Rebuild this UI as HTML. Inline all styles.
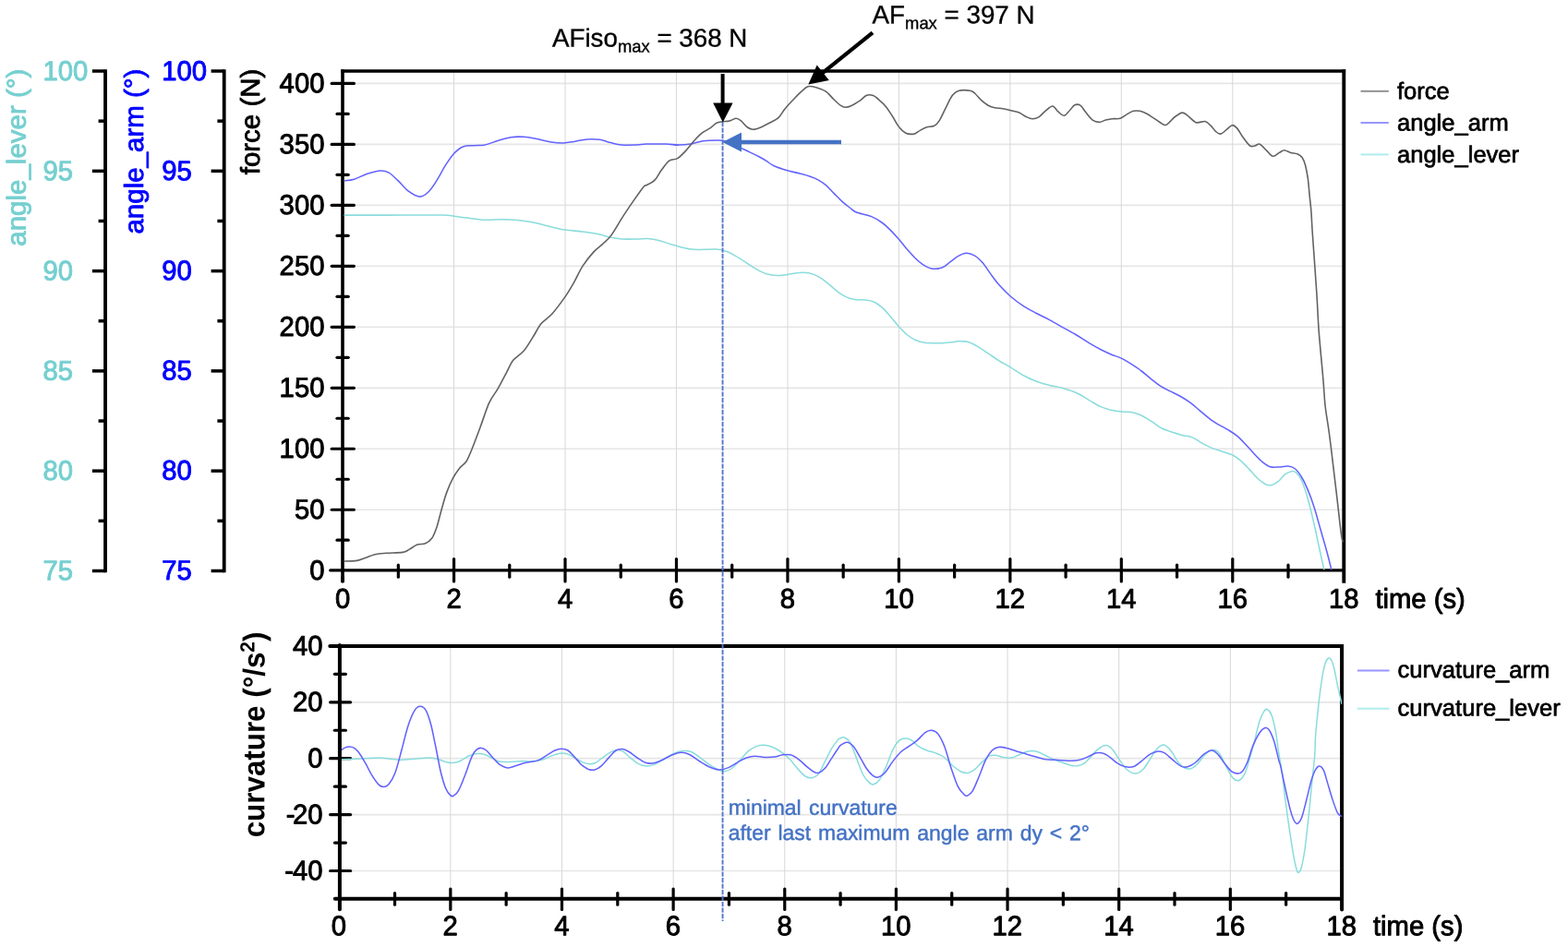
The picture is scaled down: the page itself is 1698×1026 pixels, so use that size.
<!DOCTYPE html><html><head><meta charset="utf-8"><title>Force and angle curves</title>
<style>html,body{margin:0;padding:0;background:#fff;overflow:hidden;}svg{display:block;font-family:"Liberation Sans", sans-serif;}</style></head><body>
<svg width="1698" height="1026" viewBox="0 0 1698 1026">
<rect width="1698" height="1026" fill="#fff"/>
<line x1="371.00" y1="552.23" x2="1455.30" y2="552.23" stroke="#e6e6e6" stroke-width="1.70" stroke-linecap="butt" />
<line x1="371.00" y1="486.25" x2="1455.30" y2="486.25" stroke="#e6e6e6" stroke-width="1.70" stroke-linecap="butt" />
<line x1="371.00" y1="420.28" x2="1455.30" y2="420.28" stroke="#e6e6e6" stroke-width="1.70" stroke-linecap="butt" />
<line x1="371.00" y1="354.30" x2="1455.30" y2="354.30" stroke="#e6e6e6" stroke-width="1.70" stroke-linecap="butt" />
<line x1="371.00" y1="288.33" x2="1455.30" y2="288.33" stroke="#e6e6e6" stroke-width="1.70" stroke-linecap="butt" />
<line x1="371.00" y1="222.35" x2="1455.30" y2="222.35" stroke="#e6e6e6" stroke-width="1.70" stroke-linecap="butt" />
<line x1="371.00" y1="156.38" x2="1455.30" y2="156.38" stroke="#e6e6e6" stroke-width="1.70" stroke-linecap="butt" />
<line x1="371.00" y1="90.40" x2="1455.30" y2="90.40" stroke="#e6e6e6" stroke-width="1.70" stroke-linecap="butt" />
<line x1="491.56" y1="77.00" x2="491.56" y2="618.00" stroke="#d9d9d9" stroke-width="1.05" stroke-linecap="butt" />
<line x1="612.02" y1="77.00" x2="612.02" y2="618.00" stroke="#d9d9d9" stroke-width="1.05" stroke-linecap="butt" />
<line x1="732.48" y1="77.00" x2="732.48" y2="618.00" stroke="#d9d9d9" stroke-width="1.05" stroke-linecap="butt" />
<line x1="852.94" y1="77.00" x2="852.94" y2="618.00" stroke="#d9d9d9" stroke-width="1.05" stroke-linecap="butt" />
<line x1="973.40" y1="77.00" x2="973.40" y2="618.00" stroke="#d9d9d9" stroke-width="1.05" stroke-linecap="butt" />
<line x1="1093.86" y1="77.00" x2="1093.86" y2="618.00" stroke="#d9d9d9" stroke-width="1.05" stroke-linecap="butt" />
<line x1="1214.32" y1="77.00" x2="1214.32" y2="618.00" stroke="#d9d9d9" stroke-width="1.05" stroke-linecap="butt" />
<line x1="1334.78" y1="77.00" x2="1334.78" y2="618.00" stroke="#d9d9d9" stroke-width="1.05" stroke-linecap="butt" />
<line x1="367.90" y1="760.80" x2="1453.10" y2="760.80" stroke="#e6e6e6" stroke-width="1.70" stroke-linecap="butt" />
<line x1="367.90" y1="821.70" x2="1453.10" y2="821.70" stroke="#e6e6e6" stroke-width="1.70" stroke-linecap="butt" />
<line x1="367.90" y1="882.60" x2="1453.10" y2="882.60" stroke="#e6e6e6" stroke-width="1.70" stroke-linecap="butt" />
<line x1="367.90" y1="943.50" x2="1453.10" y2="943.50" stroke="#e6e6e6" stroke-width="1.70" stroke-linecap="butt" />
<line x1="487.84" y1="699.90" x2="487.84" y2="973.70" stroke="#d9d9d9" stroke-width="1.05" stroke-linecap="butt" />
<line x1="608.48" y1="699.90" x2="608.48" y2="973.70" stroke="#d9d9d9" stroke-width="1.05" stroke-linecap="butt" />
<line x1="729.12" y1="699.90" x2="729.12" y2="973.70" stroke="#d9d9d9" stroke-width="1.05" stroke-linecap="butt" />
<line x1="849.76" y1="699.90" x2="849.76" y2="973.70" stroke="#d9d9d9" stroke-width="1.05" stroke-linecap="butt" />
<line x1="970.40" y1="699.90" x2="970.40" y2="973.70" stroke="#d9d9d9" stroke-width="1.05" stroke-linecap="butt" />
<line x1="1091.04" y1="699.90" x2="1091.04" y2="973.70" stroke="#d9d9d9" stroke-width="1.05" stroke-linecap="butt" />
<line x1="1211.68" y1="699.90" x2="1211.68" y2="973.70" stroke="#d9d9d9" stroke-width="1.05" stroke-linecap="butt" />
<line x1="1332.32" y1="699.90" x2="1332.32" y2="973.70" stroke="#d9d9d9" stroke-width="1.05" stroke-linecap="butt" />
<line x1="371.00" y1="75.20" x2="371.00" y2="631.00" stroke="#000" stroke-width="3.60" stroke-linecap="butt" />
<line x1="369.20" y1="77.00" x2="1457.10" y2="77.00" stroke="#000" stroke-width="3.30" stroke-linecap="butt" />
<line x1="1455.30" y1="75.35" x2="1455.30" y2="631.70" stroke="#000" stroke-width="3.90" stroke-linecap="butt" />
<line x1="357.80" y1="617.90" x2="1455.30" y2="617.90" stroke="#000" stroke-width="3.40" stroke-linecap="round" />
<line x1="365.00" y1="585.21" x2="377.20" y2="585.21" stroke="#000" stroke-width="3.20" stroke-linecap="round" />
<line x1="359.20" y1="552.23" x2="383.40" y2="552.23" stroke="#000" stroke-width="3.20" stroke-linecap="round" />
<line x1="365.00" y1="519.24" x2="377.20" y2="519.24" stroke="#000" stroke-width="3.20" stroke-linecap="round" />
<line x1="359.20" y1="486.25" x2="383.40" y2="486.25" stroke="#000" stroke-width="3.20" stroke-linecap="round" />
<line x1="365.00" y1="453.26" x2="377.20" y2="453.26" stroke="#000" stroke-width="3.20" stroke-linecap="round" />
<line x1="359.20" y1="420.28" x2="383.40" y2="420.28" stroke="#000" stroke-width="3.20" stroke-linecap="round" />
<line x1="365.00" y1="387.29" x2="377.20" y2="387.29" stroke="#000" stroke-width="3.20" stroke-linecap="round" />
<line x1="359.20" y1="354.30" x2="383.40" y2="354.30" stroke="#000" stroke-width="3.20" stroke-linecap="round" />
<line x1="365.00" y1="321.31" x2="377.20" y2="321.31" stroke="#000" stroke-width="3.20" stroke-linecap="round" />
<line x1="359.20" y1="288.33" x2="383.40" y2="288.33" stroke="#000" stroke-width="3.20" stroke-linecap="round" />
<line x1="365.00" y1="255.34" x2="377.20" y2="255.34" stroke="#000" stroke-width="3.20" stroke-linecap="round" />
<line x1="359.20" y1="222.35" x2="383.40" y2="222.35" stroke="#000" stroke-width="3.20" stroke-linecap="round" />
<line x1="365.00" y1="189.36" x2="377.20" y2="189.36" stroke="#000" stroke-width="3.20" stroke-linecap="round" />
<line x1="359.20" y1="156.38" x2="383.40" y2="156.38" stroke="#000" stroke-width="3.20" stroke-linecap="round" />
<line x1="365.00" y1="123.39" x2="377.20" y2="123.39" stroke="#000" stroke-width="3.20" stroke-linecap="round" />
<line x1="359.20" y1="90.40" x2="383.40" y2="90.40" stroke="#000" stroke-width="3.20" stroke-linecap="round" />
<line x1="431.33" y1="612.20" x2="431.33" y2="625.20" stroke="#000" stroke-width="3.20" stroke-linecap="round" />
<line x1="491.56" y1="605.60" x2="491.56" y2="630.00" stroke="#000" stroke-width="3.20" stroke-linecap="round" />
<line x1="551.79" y1="612.20" x2="551.79" y2="625.20" stroke="#000" stroke-width="3.20" stroke-linecap="round" />
<line x1="612.02" y1="605.60" x2="612.02" y2="630.00" stroke="#000" stroke-width="3.20" stroke-linecap="round" />
<line x1="672.25" y1="612.20" x2="672.25" y2="625.20" stroke="#000" stroke-width="3.20" stroke-linecap="round" />
<line x1="732.48" y1="605.60" x2="732.48" y2="630.00" stroke="#000" stroke-width="3.20" stroke-linecap="round" />
<line x1="792.71" y1="612.20" x2="792.71" y2="625.20" stroke="#000" stroke-width="3.20" stroke-linecap="round" />
<line x1="852.94" y1="605.60" x2="852.94" y2="630.00" stroke="#000" stroke-width="3.20" stroke-linecap="round" />
<line x1="913.17" y1="612.20" x2="913.17" y2="625.20" stroke="#000" stroke-width="3.20" stroke-linecap="round" />
<line x1="973.40" y1="605.60" x2="973.40" y2="630.00" stroke="#000" stroke-width="3.20" stroke-linecap="round" />
<line x1="1033.63" y1="612.20" x2="1033.63" y2="625.20" stroke="#000" stroke-width="3.20" stroke-linecap="round" />
<line x1="1093.86" y1="605.60" x2="1093.86" y2="630.00" stroke="#000" stroke-width="3.20" stroke-linecap="round" />
<line x1="1154.09" y1="612.20" x2="1154.09" y2="625.20" stroke="#000" stroke-width="3.20" stroke-linecap="round" />
<line x1="1214.32" y1="605.60" x2="1214.32" y2="630.00" stroke="#000" stroke-width="3.20" stroke-linecap="round" />
<line x1="1274.55" y1="612.20" x2="1274.55" y2="625.20" stroke="#000" stroke-width="3.20" stroke-linecap="round" />
<line x1="1334.78" y1="605.60" x2="1334.78" y2="630.00" stroke="#000" stroke-width="3.20" stroke-linecap="round" />
<line x1="1395.01" y1="612.20" x2="1395.01" y2="625.20" stroke="#000" stroke-width="3.20" stroke-linecap="round" />
<line x1="371.00" y1="625.00" x2="371.00" y2="630.00" stroke="#000" stroke-width="3.60" stroke-linecap="round" />
<line x1="114.05" y1="75.25" x2="114.05" y2="620.25" stroke="#000" stroke-width="3.80" stroke-linecap="butt" />
<line x1="99.90" y1="77.00" x2="114.05" y2="77.00" stroke="#000" stroke-width="3.50" stroke-linecap="butt" />
<line x1="106.60" y1="131.15" x2="114.05" y2="131.15" stroke="#000" stroke-width="3.50" stroke-linecap="butt" />
<line x1="99.90" y1="185.30" x2="114.05" y2="185.30" stroke="#000" stroke-width="3.50" stroke-linecap="butt" />
<line x1="106.60" y1="239.45" x2="114.05" y2="239.45" stroke="#000" stroke-width="3.50" stroke-linecap="butt" />
<line x1="99.90" y1="293.60" x2="114.05" y2="293.60" stroke="#000" stroke-width="3.50" stroke-linecap="butt" />
<line x1="106.60" y1="347.75" x2="114.05" y2="347.75" stroke="#000" stroke-width="3.50" stroke-linecap="butt" />
<line x1="99.90" y1="401.90" x2="114.05" y2="401.90" stroke="#000" stroke-width="3.50" stroke-linecap="butt" />
<line x1="106.60" y1="456.05" x2="114.05" y2="456.05" stroke="#000" stroke-width="3.50" stroke-linecap="butt" />
<line x1="99.90" y1="510.20" x2="114.05" y2="510.20" stroke="#000" stroke-width="3.50" stroke-linecap="butt" />
<line x1="106.60" y1="564.35" x2="114.05" y2="564.35" stroke="#000" stroke-width="3.50" stroke-linecap="butt" />
<line x1="99.90" y1="618.50" x2="114.05" y2="618.50" stroke="#000" stroke-width="3.50" stroke-linecap="butt" />
<line x1="242.70" y1="75.25" x2="242.70" y2="620.25" stroke="#000" stroke-width="3.80" stroke-linecap="butt" />
<line x1="228.60" y1="77.00" x2="242.70" y2="77.00" stroke="#000" stroke-width="3.50" stroke-linecap="butt" />
<line x1="235.40" y1="131.15" x2="242.70" y2="131.15" stroke="#000" stroke-width="3.50" stroke-linecap="butt" />
<line x1="228.60" y1="185.30" x2="242.70" y2="185.30" stroke="#000" stroke-width="3.50" stroke-linecap="butt" />
<line x1="235.40" y1="239.45" x2="242.70" y2="239.45" stroke="#000" stroke-width="3.50" stroke-linecap="butt" />
<line x1="228.60" y1="293.60" x2="242.70" y2="293.60" stroke="#000" stroke-width="3.50" stroke-linecap="butt" />
<line x1="235.40" y1="347.75" x2="242.70" y2="347.75" stroke="#000" stroke-width="3.50" stroke-linecap="butt" />
<line x1="228.60" y1="401.90" x2="242.70" y2="401.90" stroke="#000" stroke-width="3.50" stroke-linecap="butt" />
<line x1="235.40" y1="456.05" x2="242.70" y2="456.05" stroke="#000" stroke-width="3.50" stroke-linecap="butt" />
<line x1="228.60" y1="510.20" x2="242.70" y2="510.20" stroke="#000" stroke-width="3.50" stroke-linecap="butt" />
<line x1="235.40" y1="564.35" x2="242.70" y2="564.35" stroke="#000" stroke-width="3.50" stroke-linecap="butt" />
<line x1="228.60" y1="618.50" x2="242.70" y2="618.50" stroke="#000" stroke-width="3.50" stroke-linecap="butt" />
<line x1="367.90" y1="698.90" x2="367.90" y2="985.30" stroke="#000" stroke-width="4.00" stroke-linecap="round" />
<path d="M357.3 699.90 L1453.10 699.90 L1453.10 985.6" fill="none" stroke="#000" stroke-width="4.0" stroke-linecap="round" stroke-linejoin="miter"/>
<line x1="362.80" y1="973.70" x2="1453.10" y2="973.70" stroke="#000" stroke-width="3.90" stroke-linecap="round" />
<line x1="357.60" y1="943.50" x2="379.60" y2="943.50" stroke="#000" stroke-width="3.20" stroke-linecap="round" />
<line x1="362.40" y1="913.05" x2="374.40" y2="913.05" stroke="#000" stroke-width="3.20" stroke-linecap="round" />
<line x1="357.60" y1="882.60" x2="379.60" y2="882.60" stroke="#000" stroke-width="3.20" stroke-linecap="round" />
<line x1="362.40" y1="852.15" x2="374.40" y2="852.15" stroke="#000" stroke-width="3.20" stroke-linecap="round" />
<line x1="357.60" y1="821.70" x2="379.60" y2="821.70" stroke="#000" stroke-width="3.20" stroke-linecap="round" />
<line x1="362.40" y1="791.25" x2="374.40" y2="791.25" stroke="#000" stroke-width="3.20" stroke-linecap="round" />
<line x1="357.60" y1="760.80" x2="379.60" y2="760.80" stroke="#000" stroke-width="3.20" stroke-linecap="round" />
<line x1="362.40" y1="730.35" x2="374.40" y2="730.35" stroke="#000" stroke-width="3.20" stroke-linecap="round" />
<line x1="427.52" y1="967.60" x2="427.52" y2="980.20" stroke="#000" stroke-width="3.20" stroke-linecap="round" />
<line x1="487.84" y1="963.00" x2="487.84" y2="985.40" stroke="#000" stroke-width="3.20" stroke-linecap="round" />
<line x1="548.16" y1="967.60" x2="548.16" y2="980.20" stroke="#000" stroke-width="3.20" stroke-linecap="round" />
<line x1="608.48" y1="963.00" x2="608.48" y2="985.40" stroke="#000" stroke-width="3.20" stroke-linecap="round" />
<line x1="668.80" y1="967.60" x2="668.80" y2="980.20" stroke="#000" stroke-width="3.20" stroke-linecap="round" />
<line x1="729.12" y1="963.00" x2="729.12" y2="985.40" stroke="#000" stroke-width="3.20" stroke-linecap="round" />
<line x1="789.44" y1="967.60" x2="789.44" y2="980.20" stroke="#000" stroke-width="3.20" stroke-linecap="round" />
<line x1="849.76" y1="963.00" x2="849.76" y2="985.40" stroke="#000" stroke-width="3.20" stroke-linecap="round" />
<line x1="910.08" y1="967.60" x2="910.08" y2="980.20" stroke="#000" stroke-width="3.20" stroke-linecap="round" />
<line x1="970.40" y1="963.00" x2="970.40" y2="985.40" stroke="#000" stroke-width="3.20" stroke-linecap="round" />
<line x1="1030.72" y1="967.60" x2="1030.72" y2="980.20" stroke="#000" stroke-width="3.20" stroke-linecap="round" />
<line x1="1091.04" y1="963.00" x2="1091.04" y2="985.40" stroke="#000" stroke-width="3.20" stroke-linecap="round" />
<line x1="1151.36" y1="967.60" x2="1151.36" y2="980.20" stroke="#000" stroke-width="3.20" stroke-linecap="round" />
<line x1="1211.68" y1="963.00" x2="1211.68" y2="985.40" stroke="#000" stroke-width="3.20" stroke-linecap="round" />
<line x1="1272.00" y1="967.60" x2="1272.00" y2="980.20" stroke="#000" stroke-width="3.20" stroke-linecap="round" />
<line x1="1332.32" y1="963.00" x2="1332.32" y2="985.40" stroke="#000" stroke-width="3.20" stroke-linecap="round" />
<line x1="1392.64" y1="967.60" x2="1392.64" y2="980.20" stroke="#000" stroke-width="3.20" stroke-linecap="round" />
<defs><clipPath id="ct"><rect x="372.6" y="77" width="1082.7" height="542.3"/></clipPath><clipPath id="cb"><rect x="370.0" y="700" width="1083.2" height="275.2"/></clipPath></defs>
<g fill="none" stroke-linejoin="round" stroke-linecap="round" clip-path="url(#ct)">
<path d="M372.2 233.1C380.0 233.1 401.3 233.1 418.9 233.1C436.5 233.1 465.6 232.9 477.8 233.1C490.0 233.3 487.2 233.7 491.9 234.2C496.6 234.8 500.6 235.5 506.1 236.1C511.5 236.8 518.6 238.0 524.9 238.3C531.2 238.5 537.9 237.8 543.8 237.8C549.6 237.8 554.7 238.0 560.2 238.5C565.7 239.0 570.8 239.7 576.7 240.8C582.6 242.0 589.7 244.2 595.6 245.6C601.5 246.9 606.2 248.2 612.1 249.1C617.9 250.0 625.0 250.2 630.9 251.0C636.8 251.7 642.3 252.5 647.4 253.6C652.5 254.6 657.2 256.4 661.5 257.3C665.8 258.2 668.6 258.7 673.3 259.0C678.0 259.3 685.1 259.1 689.8 259.0C694.5 258.9 697.7 258.3 701.6 258.5C705.5 258.8 709.0 259.3 713.4 260.4C717.7 261.5 721.6 263.3 727.5 264.9C733.4 266.5 740.9 269.2 748.8 270.1C756.8 271.0 769.2 269.8 775.3 270.1C781.5 270.4 782.4 270.8 785.9 272.1C789.5 273.3 793.0 275.4 796.5 277.4C800.1 279.3 803.6 281.6 807.1 283.9C810.7 286.2 813.9 288.8 817.7 290.9C821.6 293.1 826.0 295.5 830.1 296.8C834.2 298.0 838.3 298.5 842.5 298.6C846.6 298.6 851.0 297.7 854.8 297.1C858.7 296.6 861.9 295.6 865.4 295.4C869.0 295.1 872.5 295.0 876.0 295.7C879.6 296.5 883.1 297.8 886.6 299.8C890.2 301.8 893.7 304.9 897.2 307.7C900.8 310.5 904.6 314.2 907.8 316.6C911.1 318.9 913.7 320.5 916.7 321.9C919.6 323.2 922.0 324.0 925.5 324.5C929.0 325.0 934.3 324.4 937.9 324.9C941.4 325.3 943.8 325.8 946.7 327.2C949.7 328.6 952.6 330.7 955.5 333.4C958.5 336.0 961.4 339.7 964.4 343.1C967.3 346.5 970.3 350.4 973.2 353.7C976.2 356.9 979.1 360.1 982.0 362.5C985.0 364.9 987.6 366.7 990.9 368.2C994.1 369.6 997.4 370.8 1001.5 371.3C1005.6 371.9 1012.5 371.6 1015.6 371.7C1018.7 371.8 1017.5 371.8 1020.0 371.7C1022.5 371.6 1027.4 371.2 1030.6 370.8C1033.8 370.5 1036.2 369.5 1039.4 369.6C1042.7 369.6 1046.5 369.8 1050.0 371.0C1053.6 372.2 1057.1 374.5 1060.6 376.6C1064.2 378.8 1067.7 381.4 1071.2 383.7C1074.8 386.1 1078.0 388.4 1081.8 390.8C1085.7 393.2 1089.8 395.3 1094.2 397.9C1098.6 400.6 1103.6 404.2 1108.3 406.8C1113.1 409.3 1117.8 411.6 1122.5 413.3C1127.2 415.1 1131.9 416.2 1136.6 417.4C1141.3 418.6 1146.0 419.1 1150.7 420.4C1155.5 421.7 1160.2 423.2 1164.9 425.3C1169.6 427.5 1174.6 430.8 1179.0 433.3C1183.4 435.8 1187.6 438.6 1191.4 440.4C1195.2 442.1 1198.2 442.9 1202.0 443.9C1205.8 444.8 1210.5 445.6 1214.3 446.0C1218.2 446.5 1221.4 445.9 1225.0 446.5C1228.5 447.2 1231.7 448.0 1235.5 449.7C1239.4 451.5 1244.1 454.7 1247.9 457.1C1251.7 459.6 1253.2 461.8 1258.5 464.2C1263.9 466.6 1274.7 469.9 1280.0 471.4C1285.3 473.0 1287.1 472.2 1290.6 473.6C1294.1 475.0 1297.7 477.8 1301.2 479.8C1304.7 481.7 1308.0 483.4 1311.8 485.1C1315.6 486.7 1320.3 488.1 1324.2 489.5C1328.0 490.8 1331.5 491.4 1334.8 493.0C1338.0 494.6 1340.7 496.7 1343.6 499.2C1346.5 501.7 1349.5 504.9 1352.4 508.0C1355.4 511.1 1358.3 515.0 1361.3 517.7C1364.2 520.5 1367.6 523.1 1370.1 524.5C1372.6 525.8 1373.9 526.2 1376.3 525.7C1378.6 525.2 1381.7 523.5 1384.2 521.6C1386.7 519.7 1389.0 516.0 1391.3 514.2C1393.7 512.4 1396.3 511.0 1398.4 510.7C1400.4 510.3 1401.9 510.6 1403.7 512.1C1405.4 513.6 1407.2 515.9 1409.0 519.5C1410.7 523.1 1412.5 528.0 1414.3 533.6C1416.0 539.2 1417.8 546.0 1419.6 553.1C1421.3 560.1 1423.1 568.1 1424.9 576.0C1426.6 584.0 1428.7 594.0 1430.2 600.8C1431.7 607.6 1433.1 614.0 1433.7 616.7" stroke="#8adcdc" stroke-width="1.55"/>
<path d="M372.2 195.8C374.1 195.6 379.3 195.5 383.6 194.2C387.8 192.9 393.0 189.8 397.7 188.3C402.4 186.8 407.9 185.2 411.8 185.0C415.8 184.8 418.1 185.4 421.2 187.1C424.4 188.9 427.1 192.0 430.7 195.4C434.2 198.7 438.5 204.2 442.4 207.2C446.4 210.1 450.7 212.9 454.2 213.1C457.8 213.2 460.5 211.3 463.6 208.3C466.8 205.4 469.9 200.3 473.1 195.4C476.2 190.5 479.4 183.8 482.5 178.9C485.6 174.0 488.8 169.3 491.9 165.9C495.1 162.6 497.8 160.2 501.3 158.9C504.9 157.5 509.2 158.0 513.1 157.7C517.0 157.4 520.6 157.8 524.9 157.0C529.2 156.1 534.3 153.9 539.0 152.5C543.7 151.1 548.5 149.4 553.2 148.7C557.9 148.0 562.6 148.0 567.3 148.3C572.0 148.6 576.7 149.7 581.4 150.6C586.2 151.5 590.9 153.0 595.6 153.7C600.3 154.4 605.4 154.9 609.7 154.9C614.0 154.8 617.2 154.1 621.5 153.4C625.8 152.8 630.9 151.2 635.6 150.9C640.3 150.5 645.4 150.7 649.8 151.3C654.1 152.0 657.6 153.7 661.5 154.6C665.5 155.6 668.6 156.6 673.3 157.0C678.0 157.4 685.4 157.1 689.8 157.0C694.2 156.8 694.8 156.2 700.0 156.0C705.2 155.9 715.3 155.9 721.2 156.0C727.1 156.2 730.6 157.2 735.3 157.1C740.1 157.0 745.6 156.3 749.5 155.7C753.3 155.1 755.4 154.0 758.3 153.4C761.2 152.8 763.0 152.4 767.1 152.2C771.3 152.0 778.9 151.6 783.0 152.2C787.2 152.7 788.5 154.3 791.9 155.7C795.2 157.1 799.6 159.1 803.0 160.6C806.4 162.2 809.3 163.5 812.5 165.1C815.8 166.6 819.5 168.4 822.4 170.0C825.4 171.6 827.5 172.8 830.0 174.4C832.6 176.0 834.2 177.9 837.8 179.5C841.5 181.2 847.2 183.1 851.9 184.5C856.7 185.9 862.0 186.9 866.1 188.0C870.2 189.1 873.4 189.9 876.7 191.0C879.9 192.1 882.6 192.9 885.5 194.6C888.5 196.2 891.4 198.2 894.4 200.7C897.3 203.2 900.2 206.6 903.2 209.6C906.1 212.5 909.1 215.8 912.0 218.4C915.0 221.1 918.3 223.5 920.9 225.5C923.4 227.4 923.6 228.5 927.3 230.0C931.0 231.5 938.5 232.5 943.2 234.4C947.9 236.3 952.0 239.0 955.5 241.5C959.1 244.0 961.4 246.5 964.4 249.4C967.3 252.4 970.3 255.8 973.2 259.1C976.2 262.5 979.1 266.4 982.0 269.8C985.0 273.1 987.9 276.6 990.9 279.5C993.8 282.3 996.8 285.0 999.7 286.9C1002.7 288.8 1005.2 290.4 1008.5 290.9C1011.9 291.5 1016.6 291.2 1020.0 290.1C1023.4 288.9 1025.9 286.0 1028.8 283.9C1031.8 281.8 1034.7 279.0 1037.7 277.4C1040.6 275.7 1043.6 274.3 1046.5 274.2C1049.4 274.1 1052.4 275.1 1055.3 276.8C1058.3 278.6 1061.2 281.4 1064.2 284.8C1067.1 288.2 1070.1 293.2 1073.0 297.1C1075.9 301.1 1078.3 304.6 1081.8 308.6C1085.4 312.6 1089.8 317.2 1094.2 321.0C1098.6 324.8 1103.6 328.5 1108.3 331.6C1113.1 334.7 1117.8 337.0 1122.5 339.5C1127.2 342.0 1131.9 344.1 1136.6 346.6C1141.3 349.1 1146.0 351.9 1150.7 354.6C1155.5 357.2 1160.2 359.7 1164.9 362.5C1169.6 365.3 1174.3 368.5 1179.0 371.3C1183.7 374.1 1189.0 377.1 1193.1 379.3C1197.3 381.4 1200.2 382.8 1203.8 384.2C1207.3 385.7 1210.8 386.4 1214.3 388.1C1217.9 389.8 1221.4 392.2 1225.0 394.4C1228.5 396.6 1232.0 398.8 1235.5 401.5C1239.1 404.1 1242.6 407.5 1246.2 410.3C1249.7 413.1 1253.2 416.0 1256.8 418.3C1260.3 420.5 1263.8 422.1 1267.3 423.9C1270.9 425.7 1274.4 427.2 1278.0 429.2C1281.5 431.2 1285.0 433.3 1288.5 435.9C1292.1 438.5 1295.6 441.8 1299.2 444.8C1302.7 447.7 1306.8 451.3 1309.8 453.6C1312.7 455.9 1313.5 456.4 1317.1 458.6C1320.7 460.7 1327.4 464.1 1331.2 466.5C1335.1 468.9 1337.1 470.2 1340.1 472.7C1343.0 475.2 1346.0 478.4 1348.9 481.5C1351.8 484.6 1354.8 488.1 1357.7 491.2C1360.7 494.3 1363.6 497.7 1366.6 500.1C1369.5 502.5 1372.2 504.7 1375.4 505.7C1378.7 506.7 1382.8 506.0 1386.0 505.9C1389.2 505.8 1392.2 504.8 1394.8 505.0C1397.5 505.3 1399.6 505.7 1401.9 507.5C1404.3 509.3 1406.6 512.2 1409.0 516.0C1411.3 519.7 1413.7 524.5 1416.0 530.1C1418.4 535.7 1420.8 542.2 1423.1 549.5C1425.5 556.9 1427.8 566.0 1430.2 574.3C1432.5 582.5 1435.3 591.9 1437.2 599.0C1439.2 606.1 1440.9 613.7 1441.7 616.7" stroke="#6262ff" stroke-width="1.55"/>
<path d="M370.9 608.1C373.5 608.0 382.4 608.0 386.5 607.4C390.6 606.8 392.1 605.7 395.3 604.6C398.6 603.5 402.1 601.6 405.9 600.7C409.8 599.8 413.3 599.7 418.3 599.3C423.3 598.9 431.8 599.1 436.0 598.4C440.1 597.8 440.4 596.8 443.0 595.4C445.7 594.0 448.9 591.2 451.9 590.1C454.8 589.0 458.1 589.9 460.7 588.7C463.4 587.5 465.7 586.0 467.8 583.0C469.8 580.0 471.3 576.0 473.1 570.7C474.8 565.4 476.6 557.4 478.4 551.2C480.1 545.1 481.6 539.2 483.7 533.6C485.7 528.0 488.4 522.1 490.7 517.7C493.1 513.3 495.5 510.0 497.8 507.1C500.2 504.1 502.7 503.3 504.9 500.0C507.0 496.7 508.2 493.5 510.8 487.2C513.3 481.0 517.1 470.9 520.2 462.5C523.3 454.1 526.5 443.5 529.6 436.6C532.8 429.7 535.9 426.8 539.0 421.3C542.2 415.8 545.7 408.7 548.5 403.6C551.2 398.5 552.4 394.6 555.5 390.6C558.7 386.7 563.8 384.2 567.3 380.1C570.8 375.9 573.6 370.8 576.7 365.9C579.9 361.0 582.6 354.9 586.1 350.6C589.7 346.3 593.6 344.9 597.9 340.0C602.2 335.1 608.1 327.1 612.1 321.4C616.0 315.8 618.3 311.6 621.5 306.1C624.6 300.6 627.4 293.9 630.9 288.4C634.4 282.9 639.2 277.0 642.7 273.1C646.2 269.2 649.0 267.8 652.1 264.9C655.2 261.9 658.0 260.2 661.5 255.4C665.1 250.7 669.4 242.7 673.3 236.6C677.2 230.5 681.2 224.6 685.1 218.9C689.0 213.2 694.4 205.5 696.9 202.4C699.4 199.4 698.0 201.9 700.0 200.7C702.0 199.6 706.2 198.1 708.8 195.4C711.5 192.8 713.2 188.4 715.9 184.8C718.5 181.3 721.8 176.4 724.7 174.2C727.7 172.0 730.6 173.4 733.6 171.6C736.5 169.8 739.5 166.7 742.4 163.6C745.3 160.5 748.3 156.3 751.2 153.0C754.2 149.8 757.1 146.6 760.1 144.2C763.0 141.8 766.2 140.7 768.9 138.9C771.5 137.1 773.6 134.4 776.0 133.2C778.3 132.1 780.7 132.2 783.0 131.8C785.4 131.5 787.8 131.5 790.1 130.9C792.5 130.4 795.1 128.3 797.2 128.3C799.2 128.3 800.4 129.3 802.5 130.9C804.5 132.6 807.3 136.5 809.5 138.0C811.7 139.6 813.4 140.3 815.7 140.3C818.1 140.3 820.6 139.3 823.7 138.0C826.8 136.8 831.0 134.5 834.3 132.7C837.5 131.0 840.5 129.9 843.1 127.4C845.8 124.9 847.5 120.9 850.2 117.7C852.8 114.5 856.1 111.1 859.0 108.0C862.0 104.9 865.2 101.5 867.8 99.2C870.5 96.8 872.3 94.6 874.9 93.8C877.6 93.1 880.5 93.8 883.8 94.7C887.0 95.6 891.1 96.9 894.4 99.2C897.6 101.4 900.5 105.5 903.2 108.0C905.8 110.5 908.2 112.8 910.2 114.2C912.3 115.6 913.5 116.3 915.5 116.3C917.6 116.3 920.0 115.4 922.6 114.2C925.3 112.9 928.8 110.7 931.5 108.9C934.1 107.0 936.2 104.1 938.5 103.2C940.9 102.3 943.2 102.6 945.6 103.6C947.9 104.5 950.3 106.8 952.6 108.9C955.0 110.9 957.4 113.0 959.7 115.9C962.1 118.9 964.4 122.9 966.8 126.5C969.1 130.2 971.5 135.1 973.9 138.0C976.2 141.0 978.3 143.0 980.9 144.2C983.6 145.4 987.3 145.5 989.8 145.1C992.2 144.6 993.7 142.7 995.9 141.6C998.1 140.4 1000.3 138.9 1003.0 138.0C1005.6 137.1 1009.4 137.4 1011.8 136.2C1014.2 135.1 1015.0 134.2 1017.1 130.9C1019.2 127.7 1021.8 121.4 1024.2 116.8C1026.5 112.3 1028.9 106.7 1031.2 103.6C1033.6 100.5 1035.1 99.2 1038.3 98.3C1041.5 97.4 1047.7 97.7 1050.7 98.3C1053.6 98.8 1053.9 99.7 1056.0 101.5C1058.0 103.2 1060.7 106.8 1063.0 108.9C1065.4 111.0 1067.8 112.8 1070.1 114.2C1072.5 115.5 1074.5 116.2 1077.2 116.8C1079.8 117.4 1083.1 117.2 1086.0 117.7C1089.0 118.2 1091.9 119.1 1094.8 119.8C1097.8 120.6 1101.0 121.1 1103.7 122.1C1106.3 123.2 1108.4 125.1 1110.7 126.2C1113.1 127.3 1115.5 128.7 1117.8 128.8C1120.2 128.9 1122.5 128.3 1124.9 126.9C1127.2 125.5 1129.4 122.3 1131.9 120.3C1134.4 118.4 1137.5 114.9 1139.9 115.0C1142.2 115.2 1144.0 119.5 1146.1 121.2C1148.1 122.9 1150.2 125.6 1152.3 125.3C1154.3 125.0 1156.5 121.4 1158.5 119.5C1160.4 117.6 1161.8 114.7 1163.8 113.8C1165.7 112.9 1167.9 112.8 1169.9 114.2C1172.0 115.6 1173.9 119.5 1176.1 122.1C1178.3 124.8 1180.8 128.4 1183.2 130.1C1185.5 131.8 1187.9 132.4 1190.2 132.4C1192.6 132.4 1195.0 130.7 1197.3 130.1C1199.7 129.5 1201.7 129.0 1204.4 128.7C1207.0 128.4 1210.6 129.1 1213.2 128.3C1215.9 127.5 1217.9 125.2 1220.3 123.9C1222.6 122.6 1225.0 120.9 1227.3 120.3C1229.7 119.8 1232.1 119.9 1234.4 120.3C1236.8 120.8 1239.1 121.8 1241.5 123.0C1243.8 124.2 1246.2 125.9 1248.5 127.4C1250.9 129.0 1253.3 130.9 1255.6 132.2C1258.0 133.5 1259.9 136.3 1262.7 135.4C1265.5 134.4 1269.4 128.7 1272.4 126.5C1275.3 124.3 1278.0 122.3 1280.3 122.1C1282.7 122.0 1284.0 123.9 1286.5 125.7C1289.0 127.4 1292.2 131.7 1295.3 132.7C1298.4 133.7 1302.4 130.9 1305.0 131.5C1307.7 132.1 1309.3 134.4 1311.2 136.2C1313.2 138.1 1314.8 141.0 1316.5 142.4C1318.3 143.9 1319.9 145.4 1321.8 145.1C1323.8 144.8 1326.0 142.2 1328.0 140.7C1330.1 139.1 1332.3 136.0 1334.2 135.7C1336.1 135.4 1337.4 136.6 1339.5 138.9C1341.6 141.2 1344.2 146.3 1346.6 149.5C1348.9 152.7 1351.6 156.6 1353.6 158.0C1355.7 159.4 1357.2 158.3 1358.9 158.0C1360.7 157.7 1362.2 155.4 1364.2 156.2C1366.3 157.0 1369.0 160.6 1371.3 162.8C1373.7 164.9 1376.0 168.8 1378.4 169.3C1380.7 169.7 1383.4 166.5 1385.4 165.4C1387.5 164.3 1388.7 162.8 1390.7 162.8C1392.8 162.8 1395.5 164.7 1397.8 165.4C1400.2 166.1 1402.8 165.9 1404.9 166.8C1406.9 167.7 1408.7 168.6 1410.2 170.7C1411.7 172.8 1412.7 175.7 1413.7 179.5C1414.7 183.4 1415.6 188.4 1416.4 193.7C1417.1 199.0 1417.5 205.4 1418.1 211.3C1418.7 217.2 1419.4 222.6 1419.9 229.0C1420.4 235.5 1420.2 235.4 1421.1 250.0C1422.1 264.7 1424.6 298.8 1425.8 317.0C1427.0 335.1 1427.1 343.3 1428.2 358.9C1429.4 374.4 1431.7 396.9 1432.8 410.4C1434.0 424.0 1434.1 430.7 1435.1 440.0C1436.2 449.3 1437.6 456.2 1439.0 466.5C1440.4 476.8 1442.0 489.8 1443.4 501.8C1444.9 513.9 1446.4 526.3 1447.8 538.9C1449.3 551.6 1451.2 569.9 1452.3 577.8C1453.3 585.8 1453.7 585.2 1454.0 586.6" stroke="#626262" stroke-width="1.6"/>
</g>
<g fill="none" stroke-linejoin="round" stroke-linecap="round" clip-path="url(#cb)">
<path d="M368.2 822.8C371.1 822.7 378.4 822.5 385.3 822.2C392.3 821.9 404.2 821.0 410.1 821.0C416.0 820.9 416.5 821.5 420.7 821.9C424.8 822.3 430.1 823.2 434.8 823.3C439.5 823.3 444.2 822.6 448.9 822.2C453.6 821.8 458.9 821.0 463.1 821.0C467.2 821.0 470.4 821.5 473.7 822.2C476.9 823.0 479.9 824.7 482.5 825.4C485.2 826.1 486.9 826.8 489.6 826.6C492.2 826.5 495.5 825.8 498.4 824.5C501.4 823.3 504.3 820.5 507.2 819.2C510.2 817.9 513.1 816.9 516.1 816.6C519.0 816.3 522.0 816.6 524.9 817.5C527.9 818.3 531.1 820.6 533.8 821.9C536.4 823.1 537.6 824.3 540.8 824.9C544.0 825.5 549.1 825.5 553.2 825.4C557.3 825.3 561.4 824.6 565.5 824.5C569.7 824.5 574.1 825.3 577.9 825.0C581.7 824.8 585.3 823.8 588.5 822.8C591.8 821.7 594.4 820.0 597.4 818.9C600.3 817.8 603.2 816.5 606.2 816.2C609.1 815.9 612.1 816.2 615.0 817.1C618.0 818.0 621.4 820.5 623.9 821.9C626.3 823.3 627.8 824.5 630.0 825.4C632.2 826.4 634.7 827.3 637.1 827.5C639.4 827.8 641.8 827.8 644.1 826.8C646.5 825.9 648.5 823.7 651.2 821.9C653.9 820.0 657.4 817.2 660.0 815.7C662.7 814.2 664.7 813.0 667.1 812.7C669.5 812.4 671.8 812.7 674.2 813.9C676.5 815.1 678.6 817.6 681.2 819.8C683.9 821.9 687.1 825.1 690.1 826.8C693.0 828.5 696.0 829.5 698.9 829.8C701.8 830.1 704.5 829.8 707.7 828.6C711.0 827.4 714.8 824.8 718.3 822.8C721.9 820.8 725.4 818.1 728.9 816.6C732.5 815.0 736.3 813.9 739.5 813.6C742.8 813.2 745.4 813.4 748.4 814.5C751.3 815.5 754.0 817.8 757.2 820.1C760.5 822.4 764.3 825.7 767.8 828.1C771.3 830.4 775.5 833.0 778.4 834.2C781.4 835.5 783.1 835.8 785.5 835.5C787.8 835.2 789.9 834.4 792.5 832.5C795.2 830.5 798.4 826.7 801.4 823.6C804.3 820.5 807.3 816.4 810.2 813.9C813.2 811.4 816.1 809.7 819.0 808.6C822.0 807.5 824.9 807.1 827.9 807.2C830.8 807.4 833.5 808.1 836.7 809.5C839.9 810.9 844.1 813.3 847.3 815.7C850.5 818.0 853.2 820.5 856.1 823.6C859.1 826.7 862.3 831.4 865.0 834.2C867.6 837.1 869.7 839.5 872.0 841.0C874.4 842.4 876.8 843.1 879.1 842.7C881.5 842.3 883.8 841.5 886.2 838.7C888.5 835.8 890.9 830.0 893.2 825.4C895.6 820.8 898.0 815.2 900.3 811.3C902.7 807.3 905.8 803.5 907.4 801.5C909.0 799.6 908.8 800.2 910.0 799.8C911.2 799.3 912.7 798.2 914.4 798.9C916.2 799.6 918.4 800.4 920.6 804.2C922.8 808.0 925.3 816.0 927.7 821.9C930.0 827.8 932.4 835.1 934.7 839.5C937.1 844.0 939.9 846.7 941.8 848.4C943.7 850.1 944.5 850.4 946.2 849.8C948.0 849.2 950.2 848.0 952.4 844.8C954.6 841.7 957.1 836.0 959.5 830.7C961.8 825.4 964.2 817.8 966.5 813.0C968.9 808.3 971.2 804.6 973.6 802.4C976.0 800.3 978.3 800.1 980.7 800.1C983.0 800.1 985.4 801.0 987.7 802.4C990.1 803.9 992.2 806.9 994.8 808.6C997.5 810.4 1000.4 811.8 1003.6 813.0C1006.9 814.3 1011.0 814.9 1014.2 816.2C1017.5 817.5 1020.1 818.7 1023.1 821.0C1026.0 823.3 1029.0 827.3 1031.9 829.8C1034.9 832.3 1038.1 834.7 1040.7 836.0C1043.4 837.3 1045.5 837.7 1047.8 837.4C1050.2 837.1 1052.2 836.2 1054.9 834.2C1057.5 832.2 1061.1 827.9 1063.7 825.4C1066.4 822.9 1068.4 820.4 1070.8 819.2C1073.1 818.0 1075.2 818.1 1077.8 818.3C1080.5 818.5 1083.7 820.0 1086.7 820.5C1089.6 820.9 1092.6 821.5 1095.5 821.0C1098.5 820.5 1101.4 818.6 1104.3 817.5C1107.3 816.3 1110.2 814.5 1113.2 813.9C1116.1 813.3 1119.1 813.3 1122.0 813.9C1125.0 814.6 1127.9 816.4 1130.8 817.8C1133.8 819.2 1136.7 821.0 1139.7 822.2C1142.6 823.5 1145.6 824.3 1148.5 825.4C1151.5 826.5 1154.4 827.9 1157.3 828.6C1160.3 829.3 1163.2 830.2 1166.2 829.8C1169.1 829.4 1171.2 829.3 1175.0 826.3C1178.8 823.3 1185.1 815.0 1188.8 811.9C1192.6 808.8 1195.0 807.5 1197.7 807.5C1200.3 807.5 1202.4 809.4 1204.7 811.9C1207.1 814.4 1209.1 818.8 1211.8 822.5C1214.5 826.2 1217.5 831.4 1220.6 834.0C1223.7 836.6 1227.4 838.2 1230.3 838.1C1233.3 837.9 1235.8 835.7 1238.3 833.1C1240.8 830.5 1243.0 826.0 1245.4 822.5C1247.7 819.0 1249.9 814.5 1252.4 811.9C1254.9 809.3 1257.7 806.8 1260.4 807.1C1263.0 807.4 1265.8 810.7 1268.3 813.7C1270.8 816.7 1273.1 822.1 1275.4 825.2C1277.8 828.2 1280.1 830.6 1282.5 831.9C1284.8 833.1 1287.2 833.4 1289.5 832.8C1291.9 832.1 1294.3 830.1 1296.6 827.8C1299.0 825.5 1301.3 821.4 1303.7 819.0C1306.0 816.5 1308.4 814.0 1310.7 813.1C1313.1 812.3 1315.7 812.4 1317.8 813.7C1319.9 814.9 1321.0 817.2 1323.1 820.7C1325.2 824.3 1328.1 831.1 1330.2 834.9C1332.2 838.6 1333.6 841.6 1335.5 843.4C1337.4 845.1 1339.6 846.3 1341.7 845.5C1343.7 844.7 1345.9 842.2 1347.8 838.4C1349.8 834.6 1351.4 828.4 1353.1 822.5C1354.9 816.6 1356.7 809.8 1358.5 803.1C1360.2 796.3 1362.0 787.3 1363.8 781.9C1365.5 776.4 1367.6 772.6 1369.0 770.4C1370.5 768.2 1371.3 767.9 1372.6 768.6C1373.9 769.4 1375.5 770.8 1377.0 774.8C1378.5 778.8 1380.1 785.4 1381.4 792.5C1382.7 799.5 1383.8 809.9 1385.0 817.2C1386.1 824.5 1387.2 828.3 1388.3 836.5C1389.5 844.7 1390.5 856.2 1391.9 866.5C1393.2 876.8 1394.8 888.3 1396.3 898.3C1397.8 908.4 1399.4 919.2 1400.7 926.6C1402.0 934.0 1403.3 939.4 1404.2 942.5C1405.2 945.6 1405.7 945.7 1406.5 945.2C1407.4 944.6 1408.5 943.2 1409.5 939.0C1410.6 934.7 1411.9 927.8 1413.1 919.5C1414.2 911.3 1415.4 900.4 1416.6 889.5C1417.8 878.6 1419.0 865.9 1420.1 854.2C1421.3 842.4 1422.9 828.5 1423.7 818.8C1424.4 809.1 1423.9 805.7 1424.7 796.0C1425.5 786.3 1427.1 771.0 1428.2 760.7C1429.4 750.4 1430.6 741.2 1431.8 734.2C1432.9 727.1 1434.0 721.8 1435.3 718.3C1436.6 714.7 1438.2 712.4 1439.7 713.0C1441.2 713.6 1442.7 716.8 1444.1 721.8C1445.6 726.8 1447.1 736.2 1448.5 743.0C1450.0 749.8 1452.2 759.2 1453.0 762.4" stroke="#8adcdc" stroke-width="1.5"/>
<path d="M368.2 813.9C369.0 813.3 371.3 811.2 373.0 810.4C374.6 809.6 376.5 809.0 378.3 809.0C380.0 809.0 381.8 809.3 383.6 810.4C385.3 811.5 386.8 812.9 388.9 815.7C390.9 818.5 393.6 823.0 395.9 827.2C398.3 831.3 400.6 836.6 403.0 840.4C405.4 844.2 408.0 848.1 410.1 850.1C412.1 852.1 413.6 852.4 415.4 852.4C417.1 852.4 418.6 852.6 420.7 850.1C422.7 847.7 425.4 844.0 427.7 837.8C430.1 831.6 432.5 821.6 434.8 813.0C437.2 804.5 439.5 793.8 441.9 786.5C444.2 779.3 446.7 773.3 448.9 769.8C451.1 766.2 453.1 765.3 455.1 765.3C457.2 765.3 459.4 766.5 461.3 769.8C463.2 773.0 464.8 778.1 466.6 784.8C468.4 791.4 470.1 801.0 471.9 809.5C473.7 818.0 475.4 828.6 477.2 836.0C479.0 843.4 480.7 849.4 482.5 853.7C484.3 857.9 486.3 860.2 487.8 861.6C489.3 863.0 489.9 863.0 491.3 862.2C492.8 861.3 494.6 860.1 496.6 856.3C498.7 852.6 501.4 845.6 503.7 839.5C506.1 833.5 508.7 824.7 510.8 820.1C512.8 815.5 514.3 813.8 516.1 812.2C517.8 810.5 519.6 810.2 521.4 810.4C523.1 810.5 524.6 811.3 526.7 813.0C528.7 814.8 531.4 818.5 533.8 821.0C536.1 823.5 538.2 826.2 540.8 828.1C543.5 829.9 546.7 831.6 549.6 831.9C552.6 832.2 555.5 830.7 558.5 829.8C561.4 829.0 564.7 827.6 567.3 826.8C570.0 826.1 571.7 825.9 574.4 825.4C577.0 824.9 580.3 824.8 583.2 823.6C586.2 822.5 589.1 820.1 592.0 818.3C595.0 816.6 598.2 814.2 600.9 813.0C603.5 811.9 605.6 811.3 608.0 811.3C610.3 811.3 612.7 811.6 615.0 813.0C617.4 814.5 619.7 817.6 622.1 820.1C624.4 822.6 627.8 826.6 629.1 828.1C630.5 829.5 628.7 828.1 630.0 828.9C631.3 829.8 634.7 832.5 637.1 833.4C639.4 834.2 641.8 834.5 644.1 833.9C646.5 833.3 648.5 832.1 651.2 829.8C653.9 827.5 657.4 822.9 660.0 820.1C662.7 817.3 664.7 814.5 667.1 813.0C669.5 811.6 671.8 811.4 674.2 811.6C676.5 811.9 678.6 812.9 681.2 814.5C683.9 816.0 687.1 819.0 690.1 821.0C693.0 823.0 696.0 825.3 698.9 826.3C701.8 827.3 704.5 827.4 707.7 826.8C711.0 826.2 714.8 824.3 718.3 822.8C721.9 821.2 725.7 818.7 728.9 817.5C732.2 816.2 734.8 815.3 737.8 815.3C740.7 815.3 743.4 815.9 746.6 817.5C749.9 819.0 753.7 822.3 757.2 824.5C760.7 826.7 764.3 829.1 767.8 830.7C771.3 832.3 774.9 833.7 778.4 833.9C781.9 834.0 785.5 833.0 789.0 831.6C792.5 830.2 796.4 827.2 799.6 825.4C802.9 823.6 805.5 822.0 808.5 821.0C811.4 820.0 814.0 819.3 817.3 819.2C820.5 819.1 824.3 820.3 827.9 820.5C831.4 820.6 835.2 820.6 838.5 820.1C841.7 819.7 844.4 818.2 847.3 817.8C850.3 817.4 853.2 817.0 856.1 817.8C859.1 818.6 862.0 820.6 865.0 822.8C867.9 824.9 871.2 828.5 873.8 830.7C876.5 832.9 878.8 834.9 880.9 836.0C882.9 837.1 884.1 838.0 886.2 837.4C888.2 836.8 890.9 835.1 893.2 832.5C895.6 829.9 898.0 825.4 900.3 821.9C902.7 818.3 905.8 813.6 907.4 811.3C909.0 808.9 908.4 808.9 910.0 807.7C911.6 806.6 914.7 804.1 917.1 804.2C919.4 804.3 921.8 806.0 924.1 808.6C926.5 811.3 928.8 816.1 931.2 820.1C933.6 824.1 935.9 829.1 938.3 832.5C940.6 835.9 943.3 838.8 945.3 840.4C947.4 842.0 948.6 842.6 950.6 842.2C952.7 841.7 955.1 840.6 957.7 837.8C960.4 835.0 963.6 829.2 966.5 825.4C969.5 821.6 972.4 817.6 975.4 814.8C978.3 812.0 981.3 810.7 984.2 808.6C987.1 806.6 990.1 804.9 993.0 802.4C996.0 799.9 999.2 795.5 1001.9 793.6C1004.5 791.7 1006.6 791.0 1008.9 791.3C1011.3 791.6 1013.7 792.3 1016.0 795.4C1018.4 798.4 1020.7 803.3 1023.1 809.5C1025.4 815.7 1027.8 825.4 1030.1 832.5C1032.5 839.5 1034.9 847.1 1037.2 851.9C1039.6 856.7 1042.5 859.4 1044.3 861.1C1046.0 862.8 1046.3 862.6 1047.8 862.0C1049.3 861.3 1051.0 860.7 1053.1 857.2C1055.2 853.8 1057.8 846.9 1060.2 841.3C1062.5 835.7 1064.9 828.4 1067.2 823.6C1069.6 818.9 1072.0 815.4 1074.3 813.0C1076.7 810.7 1078.7 810.0 1081.4 809.5C1084.0 809.1 1087.0 809.7 1090.2 810.4C1093.4 811.1 1097.3 812.8 1100.8 813.9C1104.3 815.0 1107.9 815.9 1111.4 816.9C1114.9 818.0 1118.5 819.1 1122.0 820.1C1125.5 821.1 1129.1 822.2 1132.6 822.8C1136.1 823.3 1139.1 823.1 1143.2 823.3C1147.3 823.5 1153.2 824.1 1157.3 824.2C1161.5 824.2 1164.4 824.4 1168.0 823.6C1171.5 822.9 1175.4 821.1 1178.5 819.8C1181.7 818.4 1184.5 816.4 1187.1 815.8C1189.7 815.2 1191.8 815.3 1194.1 816.0C1196.5 816.6 1198.5 818.0 1201.2 819.9C1203.9 821.7 1207.1 825.1 1210.0 826.9C1213.0 828.8 1215.9 830.2 1218.9 830.8C1221.8 831.4 1224.8 831.5 1227.7 830.5C1230.6 829.4 1233.6 826.5 1236.5 824.3C1239.5 822.1 1242.4 818.9 1245.4 817.2C1248.3 815.5 1251.5 814.3 1254.2 814.0C1256.9 813.8 1258.6 814.2 1261.3 815.8C1263.9 817.4 1267.2 821.0 1270.1 823.4C1273.1 825.8 1276.3 828.9 1278.9 830.1C1281.6 831.3 1283.4 831.5 1286.0 830.8C1288.7 830.1 1291.9 828.3 1294.8 826.0C1297.8 823.8 1300.7 819.4 1303.7 817.2C1306.6 815.1 1309.9 813.0 1312.5 813.1C1315.2 813.3 1317.2 815.6 1319.6 818.1C1321.9 820.5 1324.3 824.9 1326.6 827.8C1329.0 830.8 1331.4 834.1 1333.7 835.8C1336.1 837.5 1338.7 838.2 1340.8 838.1C1342.8 837.9 1344.3 837.2 1346.1 834.9C1347.8 832.6 1349.6 828.7 1351.4 824.3C1353.1 819.9 1354.6 813.4 1356.7 808.4C1358.7 803.4 1361.5 797.5 1363.8 794.2C1366.0 790.9 1368.2 789.2 1369.9 788.6C1371.7 788.0 1372.7 788.3 1374.3 790.7C1376.0 793.1 1377.9 797.5 1379.7 803.1C1381.4 808.7 1383.8 819.9 1385.0 824.3C1386.1 828.7 1385.4 824.4 1386.6 829.4C1387.7 834.4 1390.1 846.2 1391.9 854.2C1393.6 862.1 1395.6 871.2 1397.2 877.1C1398.8 883.0 1400.3 887.0 1401.6 889.5C1402.9 892.0 1403.8 892.8 1405.1 892.2C1406.4 891.6 1407.9 890.2 1409.5 886.0C1411.2 881.7 1413.1 873.3 1414.8 866.5C1416.6 859.8 1418.5 850.8 1420.1 845.3C1421.8 839.9 1423.1 836.4 1424.6 833.9C1426.0 831.3 1427.5 829.8 1429.0 830.0C1430.5 830.1 1431.9 831.6 1433.4 834.7C1434.9 837.9 1436.2 843.6 1437.8 848.9C1439.4 854.2 1441.3 861.2 1443.1 866.5C1444.9 871.8 1446.9 877.7 1448.4 880.7C1449.9 883.6 1451.7 883.6 1452.3 884.2" stroke="#6262ff" stroke-width="1.55"/>
</g>
<text transform="translate(351.40 628.00) scale(0.975 1) rotate(0.04)" font-size="30.00" fill="#000" text-anchor="end" font-weight="normal" stroke="#000" stroke-width="0.95" stroke-linejoin="round" >0</text>
<text transform="translate(351.40 562.02) scale(0.975 1) rotate(0.04)" font-size="30.00" fill="#000" text-anchor="end" font-weight="normal" stroke="#000" stroke-width="0.95" stroke-linejoin="round" >50</text>
<text transform="translate(351.40 496.05) scale(0.975 1) rotate(0.04)" font-size="30.00" fill="#000" text-anchor="end" font-weight="normal" stroke="#000" stroke-width="0.95" stroke-linejoin="round" >100</text>
<text transform="translate(351.40 430.08) scale(0.975 1) rotate(0.04)" font-size="30.00" fill="#000" text-anchor="end" font-weight="normal" stroke="#000" stroke-width="0.95" stroke-linejoin="round" >150</text>
<text transform="translate(351.40 364.10) scale(0.975 1) rotate(0.04)" font-size="30.00" fill="#000" text-anchor="end" font-weight="normal" stroke="#000" stroke-width="0.95" stroke-linejoin="round" >200</text>
<text transform="translate(351.40 298.13) scale(0.975 1) rotate(0.04)" font-size="30.00" fill="#000" text-anchor="end" font-weight="normal" stroke="#000" stroke-width="0.95" stroke-linejoin="round" >250</text>
<text transform="translate(351.40 232.15) scale(0.975 1) rotate(0.04)" font-size="30.00" fill="#000" text-anchor="end" font-weight="normal" stroke="#000" stroke-width="0.95" stroke-linejoin="round" >300</text>
<text transform="translate(351.40 166.18) scale(0.975 1) rotate(0.04)" font-size="30.00" fill="#000" text-anchor="end" font-weight="normal" stroke="#000" stroke-width="0.95" stroke-linejoin="round" >350</text>
<text transform="translate(351.40 100.20) scale(0.975 1) rotate(0.04)" font-size="30.00" fill="#000" text-anchor="end" font-weight="normal" stroke="#000" stroke-width="0.95" stroke-linejoin="round" >400</text>
<text transform="translate(46.60 87.10) scale(0.975 1) rotate(0.04)" font-size="30.00" fill="#76cfd0" text-anchor="start" font-weight="normal" stroke="#76cfd0" stroke-width="0.95" stroke-linejoin="round" >100</text>
<text transform="translate(175.30 86.90) scale(0.975 1) rotate(0.04)" font-size="30.00" fill="#0000ff" text-anchor="start" font-weight="normal" stroke="#0000ff" stroke-width="0.95" stroke-linejoin="round" >100</text>
<text transform="translate(46.60 195.32) scale(0.975 1) rotate(0.04)" font-size="30.00" fill="#76cfd0" text-anchor="start" font-weight="normal" stroke="#76cfd0" stroke-width="0.95" stroke-linejoin="round" >95</text>
<text transform="translate(175.30 195.12) scale(0.975 1) rotate(0.04)" font-size="30.00" fill="#0000ff" text-anchor="start" font-weight="normal" stroke="#0000ff" stroke-width="0.95" stroke-linejoin="round" >95</text>
<text transform="translate(46.60 303.54) scale(0.975 1) rotate(0.04)" font-size="30.00" fill="#76cfd0" text-anchor="start" font-weight="normal" stroke="#76cfd0" stroke-width="0.95" stroke-linejoin="round" >90</text>
<text transform="translate(175.30 303.34) scale(0.975 1) rotate(0.04)" font-size="30.00" fill="#0000ff" text-anchor="start" font-weight="normal" stroke="#0000ff" stroke-width="0.95" stroke-linejoin="round" >90</text>
<text transform="translate(46.60 411.76) scale(0.975 1) rotate(0.04)" font-size="30.00" fill="#76cfd0" text-anchor="start" font-weight="normal" stroke="#76cfd0" stroke-width="0.95" stroke-linejoin="round" >85</text>
<text transform="translate(175.30 411.56) scale(0.975 1) rotate(0.04)" font-size="30.00" fill="#0000ff" text-anchor="start" font-weight="normal" stroke="#0000ff" stroke-width="0.95" stroke-linejoin="round" >85</text>
<text transform="translate(46.60 519.98) scale(0.975 1) rotate(0.04)" font-size="30.00" fill="#76cfd0" text-anchor="start" font-weight="normal" stroke="#76cfd0" stroke-width="0.95" stroke-linejoin="round" >80</text>
<text transform="translate(175.30 519.78) scale(0.975 1) rotate(0.04)" font-size="30.00" fill="#0000ff" text-anchor="start" font-weight="normal" stroke="#0000ff" stroke-width="0.95" stroke-linejoin="round" >80</text>
<text transform="translate(46.60 628.20) scale(0.975 1) rotate(0.04)" font-size="30.00" fill="#76cfd0" text-anchor="start" font-weight="normal" stroke="#76cfd0" stroke-width="0.95" stroke-linejoin="round" >75</text>
<text transform="translate(175.30 628.00) scale(0.975 1) rotate(0.04)" font-size="30.00" fill="#0000ff" text-anchor="start" font-weight="normal" stroke="#0000ff" stroke-width="0.95" stroke-linejoin="round" >75</text>
<text transform="translate(371.10 658.70) scale(0.975 1) rotate(0.04)" font-size="30.00" fill="#000" text-anchor="middle" font-weight="normal" stroke="#000" stroke-width="0.95" stroke-linejoin="round" >0</text>
<text transform="translate(367.00 1013.20) scale(0.975 1) rotate(0.04)" font-size="30.00" fill="#000" text-anchor="middle" font-weight="normal" stroke="#000" stroke-width="0.95" stroke-linejoin="round" >0</text>
<text transform="translate(491.56 658.70) scale(0.975 1) rotate(0.04)" font-size="30.00" fill="#000" text-anchor="middle" font-weight="normal" stroke="#000" stroke-width="0.95" stroke-linejoin="round" >2</text>
<text transform="translate(487.64 1013.20) scale(0.975 1) rotate(0.04)" font-size="30.00" fill="#000" text-anchor="middle" font-weight="normal" stroke="#000" stroke-width="0.95" stroke-linejoin="round" >2</text>
<text transform="translate(612.02 658.70) scale(0.975 1) rotate(0.04)" font-size="30.00" fill="#000" text-anchor="middle" font-weight="normal" stroke="#000" stroke-width="0.95" stroke-linejoin="round" >4</text>
<text transform="translate(608.28 1013.20) scale(0.975 1) rotate(0.04)" font-size="30.00" fill="#000" text-anchor="middle" font-weight="normal" stroke="#000" stroke-width="0.95" stroke-linejoin="round" >4</text>
<text transform="translate(732.48 658.70) scale(0.975 1) rotate(0.04)" font-size="30.00" fill="#000" text-anchor="middle" font-weight="normal" stroke="#000" stroke-width="0.95" stroke-linejoin="round" >6</text>
<text transform="translate(728.92 1013.20) scale(0.975 1) rotate(0.04)" font-size="30.00" fill="#000" text-anchor="middle" font-weight="normal" stroke="#000" stroke-width="0.95" stroke-linejoin="round" >6</text>
<text transform="translate(852.94 658.70) scale(0.975 1) rotate(0.04)" font-size="30.00" fill="#000" text-anchor="middle" font-weight="normal" stroke="#000" stroke-width="0.95" stroke-linejoin="round" >8</text>
<text transform="translate(849.56 1013.20) scale(0.975 1) rotate(0.04)" font-size="30.00" fill="#000" text-anchor="middle" font-weight="normal" stroke="#000" stroke-width="0.95" stroke-linejoin="round" >8</text>
<text transform="translate(973.40 658.70) scale(0.975 1) rotate(0.04)" font-size="30.00" fill="#000" text-anchor="middle" font-weight="normal" stroke="#000" stroke-width="0.95" stroke-linejoin="round" >10</text>
<text transform="translate(970.20 1013.20) scale(0.975 1) rotate(0.04)" font-size="30.00" fill="#000" text-anchor="middle" font-weight="normal" stroke="#000" stroke-width="0.95" stroke-linejoin="round" >10</text>
<text transform="translate(1093.86 658.70) scale(0.975 1) rotate(0.04)" font-size="30.00" fill="#000" text-anchor="middle" font-weight="normal" stroke="#000" stroke-width="0.95" stroke-linejoin="round" >12</text>
<text transform="translate(1090.84 1013.20) scale(0.975 1) rotate(0.04)" font-size="30.00" fill="#000" text-anchor="middle" font-weight="normal" stroke="#000" stroke-width="0.95" stroke-linejoin="round" >12</text>
<text transform="translate(1214.32 658.70) scale(0.975 1) rotate(0.04)" font-size="30.00" fill="#000" text-anchor="middle" font-weight="normal" stroke="#000" stroke-width="0.95" stroke-linejoin="round" >14</text>
<text transform="translate(1211.48 1013.20) scale(0.975 1) rotate(0.04)" font-size="30.00" fill="#000" text-anchor="middle" font-weight="normal" stroke="#000" stroke-width="0.95" stroke-linejoin="round" >14</text>
<text transform="translate(1334.78 658.70) scale(0.975 1) rotate(0.04)" font-size="30.00" fill="#000" text-anchor="middle" font-weight="normal" stroke="#000" stroke-width="0.95" stroke-linejoin="round" >16</text>
<text transform="translate(1332.12 1013.20) scale(0.975 1) rotate(0.04)" font-size="30.00" fill="#000" text-anchor="middle" font-weight="normal" stroke="#000" stroke-width="0.95" stroke-linejoin="round" >16</text>
<text transform="translate(1455.24 658.70) scale(0.975 1) rotate(0.04)" font-size="30.00" fill="#000" text-anchor="middle" font-weight="normal" stroke="#000" stroke-width="0.95" stroke-linejoin="round" >18</text>
<text transform="translate(1452.76 1013.20) scale(0.975 1) rotate(0.04)" font-size="30.00" fill="#000" text-anchor="middle" font-weight="normal" stroke="#000" stroke-width="0.95" stroke-linejoin="round" >18</text>
<text transform="translate(1489.40 658.70) scale(0.975 1) rotate(0.04)" font-size="30.00" fill="#000" text-anchor="start" font-weight="normal" stroke="#000" stroke-width="0.95" stroke-linejoin="round" >time (s)</text>
<text transform="translate(1487.00 1013.20) scale(0.975 1) rotate(0.04)" font-size="30.00" fill="#000" text-anchor="start" font-weight="normal" stroke="#000" stroke-width="0.95" stroke-linejoin="round" >time (s)</text>
<text transform="translate(349.50 709.70) scale(0.975 1) rotate(0.04)" font-size="30.00" fill="#000" text-anchor="end" font-weight="normal" stroke="#000" stroke-width="0.95" stroke-linejoin="round" >40</text>
<text transform="translate(349.50 770.60) scale(0.975 1) rotate(0.04)" font-size="30.00" fill="#000" text-anchor="end" font-weight="normal" stroke="#000" stroke-width="0.95" stroke-linejoin="round" >20</text>
<text transform="translate(349.50 831.50) scale(0.975 1) rotate(0.04)" font-size="30.00" fill="#000" text-anchor="end" font-weight="normal" stroke="#000" stroke-width="0.95" stroke-linejoin="round" >0</text>
<text transform="translate(349.50 892.40) scale(0.975 1) rotate(0.04)" font-size="30.00" fill="#000" text-anchor="end" font-weight="normal" stroke="#000" stroke-width="0.95" stroke-linejoin="round" ><tspan letter-spacing="-2.6">-</tspan>20</text>
<text transform="translate(349.50 953.30) scale(0.975 1) rotate(0.04)" font-size="30.00" fill="#000" text-anchor="end" font-weight="normal" stroke="#000" stroke-width="0.95" stroke-linejoin="round" ><tspan letter-spacing="-1.0">-</tspan>40</text>
<text transform="translate(27.80 74.60) scale(0.985 1) rotate(-89.96) scale(1.000 1)" font-size="29.50" fill="#76cfd0" text-anchor="end" font-weight="normal" stroke="#76cfd0" stroke-width="0.85" stroke-linejoin="round" >angle_lever (°)</text>
<text transform="translate(155.00 74.60) scale(0.985 1) rotate(-89.96) scale(1.000 1)" font-size="29.50" fill="#0000ff" text-anchor="end" font-weight="normal" stroke="#0000ff" stroke-width="0.85" stroke-linejoin="round" >angle_arm (°)</text>
<text transform="translate(281.00 74.60) scale(0.985 1) rotate(-89.96) scale(1.000 1)" font-size="29.50" fill="#000" text-anchor="end" font-weight="normal" stroke="#000" stroke-width="0.85" stroke-linejoin="round" >force (N)</text>
<text transform="translate(286.50 684.60) scale(1.000 1) rotate(-89.96) scale(0.950 1)" font-size="33.00" fill="#000" text-anchor="end" font-weight="bold" >curvature (°/s<tspan font-size="22" dy="-11">2</tspan><tspan dy="11">)</tspan></text>
<line x1="1473.50" y1="98.80" x2="1503.80" y2="98.80" stroke="#909090" stroke-width="2.00" stroke-linecap="butt" />
<text transform="translate(1513.00 107.30) scale(1.000 1) rotate(0.04)" font-size="25.55" fill="#000" text-anchor="start" font-weight="normal" stroke="#000" stroke-width="0.70" stroke-linejoin="round" >force</text>
<line x1="1473.50" y1="133.00" x2="1503.80" y2="133.00" stroke="#9696ff" stroke-width="2.00" stroke-linecap="butt" />
<text transform="translate(1513.00 141.50) scale(1.000 1) rotate(0.04)" font-size="25.55" fill="#000" text-anchor="start" font-weight="normal" stroke="#000" stroke-width="0.70" stroke-linejoin="round" >angle_arm</text>
<line x1="1473.50" y1="167.40" x2="1503.80" y2="167.40" stroke="#b0ecec" stroke-width="2.00" stroke-linecap="butt" />
<text transform="translate(1513.00 175.90) scale(1.000 1) rotate(0.04)" font-size="25.55" fill="#000" text-anchor="start" font-weight="normal" stroke="#000" stroke-width="0.70" stroke-linejoin="round" >angle_lever</text>
<line x1="1470.00" y1="726.40" x2="1504.60" y2="726.40" stroke="#9696ff" stroke-width="2.00" stroke-linecap="butt" />
<text transform="translate(1513.60 734.10) scale(1.000 1) rotate(0.04)" font-size="25.55" fill="#000" text-anchor="start" font-weight="normal" stroke="#000" stroke-width="0.70" stroke-linejoin="round" >curvature_arm</text>
<line x1="1470.00" y1="767.80" x2="1504.60" y2="767.80" stroke="#b0ecec" stroke-width="2.00" stroke-linecap="butt" />
<text transform="translate(1513.60 775.40) scale(1.000 1) rotate(0.04)" font-size="25.55" fill="#000" text-anchor="start" font-weight="normal" stroke="#000" stroke-width="0.70" stroke-linejoin="round" >curvature_lever</text>
<line x1="782.55" y1="132.00" x2="782.55" y2="998.00" stroke="#5378cb" stroke-width="1.90" stroke-linecap="butt" stroke-dasharray="5.3 1.2"/>
<text transform="translate(598.00 50.40) scale(1.000 1) rotate(0.04)" font-size="27.75" fill="#000" text-anchor="start" font-weight="normal" stroke="#000" stroke-width="0.35" stroke-linejoin="round" >AFiso<tspan font-size="18.4" dy="6">max</tspan><tspan dy="-6"> = 368 N</tspan></text>
<text transform="translate(944.60 25.30) scale(1.000 1) rotate(0.04)" font-size="27.75" fill="#000" text-anchor="start" font-weight="normal" stroke="#000" stroke-width="0.35" stroke-linejoin="round" >AF<tspan font-size="18.4" dy="6">max</tspan><tspan dy="-6"> = 397 N</tspan></text>
<text transform="translate(788.70 882.60) scale(1.000 1) rotate(0.04)" font-size="22.95" fill="#4472c4" text-anchor="start" font-weight="normal" stroke="#4472c4" stroke-width="0.45" stroke-linejoin="round" word-spacing="2">minimal curvature</text>
<text transform="translate(788.70 910.00) scale(1.000 1) rotate(0.04)" font-size="22.95" fill="#4472c4" text-anchor="start" font-weight="normal" stroke="#4472c4" stroke-width="0.45" stroke-linejoin="round" word-spacing="1.5">after last maximum angle arm dy &lt; 2°</text>
<line x1="782.60" y1="80.00" x2="782.60" y2="114.00" stroke="#000" stroke-width="4.00" stroke-linecap="butt" />
<polygon points="772.2,111.6 793.6,111.6 782.8,132.4" fill="#000"/>
<line x1="911.00" y1="154.00" x2="800.00" y2="154.00" stroke="#4472c4" stroke-width="4.60" stroke-linecap="butt" />
<polygon points="803.0,143.6 803.0,164.6 782.4,154.0" fill="#4472c4"/>
<line x1="945.00" y1="35.40" x2="889.70" y2="79.99" stroke="#000" stroke-width="4.20" stroke-linecap="butt" />
<polygon points="875.30,91.60 897.85,86.91 884.67,70.56" fill="#000"/>
</svg></body></html>
